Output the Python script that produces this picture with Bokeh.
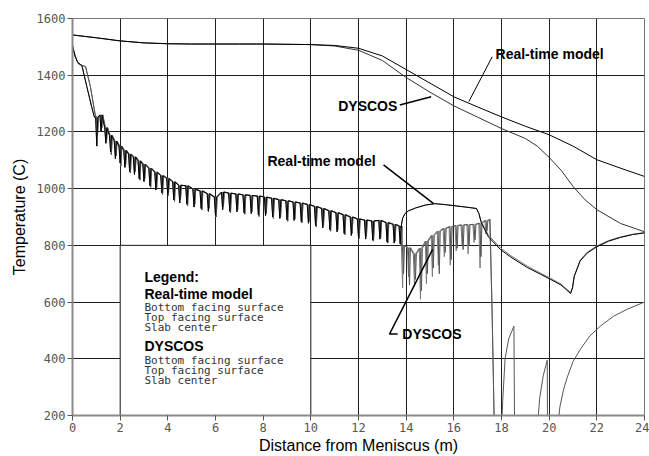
from bokeh.plotting import figure
from bokeh.models import Label, FixedTicker
from bokeh.embed import file_html
from bokeh.resources import INLINE

# ---------------- data ----------------
# slab centre temperatures
rt_center_x = [0, 1, 2, 3, 4, 5, 6, 7, 8, 9, 10, 11, 12, 13, 14, 15, 16, 17, 18, 19, 20, 21, 22, 23, 24]
rt_center = [1542, 1532, 1521, 1514, 1511, 1510, 1510, 1510, 1510, 1509, 1508, 1505, 1495, 1468, 1420,
             1372, 1324, 1288, 1253, 1220, 1190, 1150, 1102, 1072, 1043]
dy_center_x = [0, 1, 2, 3, 4, 5, 6, 7, 8, 9, 10, 11, 12, 13, 14, 15, 16, 17, 18, 19, 19.5, 20, 20.5,
               21, 21.5, 22, 23, 24]
dy_center = [1542, 1532, 1521, 1514, 1511, 1510, 1510, 1510, 1510, 1509, 1508, 1503, 1488, 1452, 1392,
             1340, 1292, 1252, 1212, 1177, 1150, 1110, 1065, 1008, 961, 926, 877, 848]

# surface temperatures, first metres (before the rolls)
rt_init_x = [0, 0.1, 0.2, 0.4, 0.6, 0.8, 0.92]
rt_init = [1505, 1470, 1448, 1432, 1360, 1290, 1252]
dy_init_x = [0, 0.12, 0.25, 0.55, 0.75, 0.95]
dy_init = [1500, 1465, 1440, 1430, 1360, 1262]

# roll positions with surface temperature between rolls and at roll contact
roll_x = [0.97, 1.15, 1.35, 1.55, 1.75, 1.95, 2.15, 2.35, 2.55, 2.75, 2.95, 3.2, 3.45, 3.7, 3.95, 4.2,
          4.45, 4.75, 5.05, 5.35, 5.65, 5.95, 6.25, 6.55, 6.85, 7.15, 7.45, 7.75, 8.05, 8.35, 8.65, 8.95,
          9.25, 9.55, 9.85, 10.15, 10.45, 10.75, 11.05, 11.35, 11.65, 11.95, 12.25, 12.55, 12.85, 13.15,
          13.45, 13.7]
roll_top = [1252, 1260, 1215, 1188, 1168, 1150, 1135, 1122, 1112, 1098, 1086, 1072, 1058, 1046, 1036, 1024,
            1012, 1010, 998, 992, 982, 970, 988, 984, 981, 978, 976, 974, 970, 966, 961, 957,
            953, 949, 944, 937, 930, 922, 915, 908, 900, 893, 889, 886, 888, 880, 874, 868]
rt_dip = [1150, 1200, 1160, 1130, 1105, 1090, 1075, 1060, 1050, 1035, 1025, 1010, 995, 985, 975, 960,
          950, 945, 935, 930, 920, 905, 925, 920, 918, 915, 912, 908, 905, 900, 895, 890,
          888, 884, 878, 870, 862, 855, 848, 842, 835, 828, 822, 818, 822, 812, 808, 805]
dy_dip = [1190, 1215, 1170, 1120, 1115, 1080, 1085, 1055, 1060, 1030, 1035, 1005, 1000, 980, 985, 955,
          960, 940, 945, 925, 930, 900, 935, 915, 925, 910, 918, 902, 912, 895, 900, 885,
          893, 880, 884, 865, 868, 850, 855, 838, 842, 824, 830, 815, 828, 808, 815, 800]

# real-time model surfaces after 13.7 m
rt_tail_x = [13.78, 13.85, 13.95, 14.1, 14.4, 14.8, 15.2, 15.6, 16.0, 16.5, 16.95, 17.05, 17.15, 17.45,
             17.96, 18.4, 19.08, 19.64, 20.06, 20.5, 20.9, 20.98, 21.05, 21.3, 21.6, 22.0, 22.5, 23.0,
             23.5, 24.0]
rt_bottom_tail = [862, 895, 912, 922, 932, 942, 947, 944, 940, 935, 930, 912, 880, 830,
                  785, 758, 722, 698, 680, 660, 630, 650, 690, 745, 773, 795, 815, 828, 838, 844]
rt_top_tail = [862, 895, 912, 922, 932, 942, 947, 944, 940, 935, 930, 914, 884, 836,
               791, 763, 727, 702, 684, 663, 634, 652, 692, 748, 776, 798, 817, 830, 839, 845]

# DYSCOS surfaces after 13.7 m (rolls in the secondary zone)
dy_roll14 = [13.8, 14.05, 14.3, 14.55, 14.8, 15.05, 15.3, 15.55, 15.8, 16.05, 16.3, 16.55, 16.8, 17.05, 17.3]
dy_top14 = [800, 792, 770, 790, 815, 835, 850, 860, 866, 870, 872, 873, 874, 878, 888]
dy_bottom_dip14 = [650, 690, 655, 610, 665, 690, 730, 760, 730, 780, 800, 770, 810, 720, 840]
dy_top_dip14 = [700, 660, 680, 640, 700, 720, 700, 775, 750, 790, 785, 800, 820, 760, 850]

dy_bottom_end_x = [17.5, 17.6, 17.7]
dy_bottom_end = [890, 600, 150]
dy_top_end_x = [17.52, 17.62, 17.7, 18.0, 18.05, 18.15, 18.3, 18.52, 18.55, 19.5, 19.6, 19.75, 19.92,
                19.93, 20.34, 20.45, 20.6, 20.76, 21.0, 21.32, 21.7, 22.16, 22.7, 23.28, 24.0]
dy_top_end = [892, 500, 150, 150, 250, 400, 470, 515, 150, 150, 260, 340, 395,
              150, 150, 230, 290, 335, 390, 435, 480, 516, 550, 575, 600]

x_ticks = [0, 2, 4, 6, 8, 10, 12, 14, 16, 18, 20, 22, 24]
y_ticks = [200, 400, 600, 800, 1000, 1200, 1400, 1600]


def saw(rolls, tops, dips, shift=0.0):
    xs, ys = [], []
    for r, t, d in zip(rolls, tops, dips):
        xs += [r + shift, r + shift + 0.05, r + shift + 0.09]
        ys += [t, d, t]
    return xs, ys


p = figure(width=649, height=456, x_range=(0, 24), y_range=(200, 1600),
           output_backend="svg", toolbar_location=None,
           min_border_left=72, min_border_right=5, min_border_top=18, min_border_bottom=39)
p.background_fill_color = "white"
p.border_fill_color = "white"
p.outline_line_color = "#777777"
p.outline_line_width = 1

for ax in (p.xaxis[0], p.yaxis[0]):
    ax.axis_line_color = "#8a8a8a"
    ax.axis_line_width = 2
    ax.major_tick_line_color = "#555555"
    ax.major_tick_out = 5
    ax.major_tick_in = 0
    ax.minor_tick_line_color = None
    ax.major_label_text_font = "DejaVu Sans Mono"
    ax.major_label_text_font_size = "12px"
    ax.major_label_text_color = "#555555"
    ax.axis_label_text_font = "Liberation Sans"
    ax.axis_label_text_font_size = "16px"
    ax.axis_label_text_font_style = "normal"
    ax.axis_label_text_color = "black"
    ax.major_label_standoff = 2

p.xaxis.ticker = FixedTicker(ticks=x_ticks)
p.yaxis.ticker = FixedTicker(ticks=y_ticks)
p.xaxis.axis_label = "Distance from Meniscus (m)"
p.yaxis.axis_label = "Temperature (C)"
p.xaxis.axis_label_standoff = 2
p.yaxis.axis_label_standoff = 6

p.xgrid.grid_line_color = "#1e1e1e"
p.ygrid.grid_line_color = "#1e1e1e"
p.xgrid.grid_line_width = 1
p.ygrid.grid_line_width = 1

# legend panel (white box hiding the grid)
p.quad(left=2, right=10, bottom=200, top=800, fill_color="white", line_color="#1e1e1e", line_width=1)

# slab centre
p.line(dy_center_x, dy_center, line_color="#333333", line_width=1)
p.line(rt_center_x, rt_center, line_color="black", line_width=1)

# surfaces
sx_dy, sy_dy = saw(roll_x, roll_top, dy_dip, 0.03)
sx_rt, sy_rt = saw(roll_x, roll_top, rt_dip, 0.0)
bx, by = saw(dy_roll14, dy_top14, dy_bottom_dip14, 0.0)
tx, ty = saw(dy_roll14, dy_top14, dy_top_dip14, 0.04)

p.line(dy_init_x + sx_dy + bx + dy_bottom_end_x, dy_init + sy_dy + by + dy_bottom_end,
       line_color="#7a7a7a", line_width=1)
p.line(dy_init_x + sx_dy + tx + dy_top_end_x, dy_init + sy_dy + ty + dy_top_end,
       line_color="#555555", line_width=1)
p.line(rt_init_x + sx_rt + rt_tail_x, rt_init + sy_rt + rt_top_tail,
       line_color="#777777", line_width=1)
p.line(rt_init_x + sx_rt + rt_tail_x, rt_init + sy_rt + rt_bottom_tail,
       line_color="black", line_width=1)

# annotations
bold = dict(text_font="Liberation Sans", text_font_size="14px", text_font_style="bold",
            text_color="black", text_baseline="middle")
p.add_layout(Label(x=17.75, y=1474, text="Real-time model", **bold))
p.line([17.61, 16.63], [1465, 1307], line_color="black", line_width=1)
p.add_layout(Label(x=13.63, y=1292, text="DYSCOS", text_align="right", **bold))
p.line([13.73, 15.05], [1295, 1324], line_color="black", line_width=1.5)
p.add_layout(Label(x=8.18, y=1099, text="Real-time model", **bold))
p.line([13.05, 15.15], [1084, 947], line_color="black", line_width=1.5)
p.add_layout(Label(x=13.84, y=487, text="DYSCOS", **bold))
p.line([13.64, 13.30, 15.11], [487, 487, 786], line_color="black", line_width=1.5)

# legend text
mono = dict(text_font="DejaVu Sans Mono", text_font_size="11px", text_color="#333333",
            text_baseline="middle")
p.add_layout(Label(x=3.02, y=1600 - (278 - 18.3) / 0.2845, text="Legend:", **bold))
p.add_layout(Label(x=3.02, y=1600 - (295 - 18.3) / 0.2845, text="Real-time model", **bold))
p.add_layout(Label(x=3.02, y=1600 - (308 - 18.3) / 0.2845, text="Bottom facing surface", **mono))
p.add_layout(Label(x=3.02, y=1600 - (318 - 18.3) / 0.2845, text="Top facing surface", **mono))
p.add_layout(Label(x=3.02, y=1600 - (328 - 18.3) / 0.2845, text="Slab center", **mono))
p.add_layout(Label(x=3.02, y=1600 - (347 - 18.3) / 0.2845, text="DYSCOS", **bold))
p.add_layout(Label(x=3.02, y=1600 - (361 - 18.3) / 0.2845, text="Bottom facing surface", **mono))
p.add_layout(Label(x=3.02, y=1600 - (371 - 18.3) / 0.2845, text="Top facing surface", **mono))
p.add_layout(Label(x=3.02, y=1600 - (381 - 18.3) / 0.2845, text="Slab center", **mono))

open("out.html", "w").write(file_html(p, INLINE))
